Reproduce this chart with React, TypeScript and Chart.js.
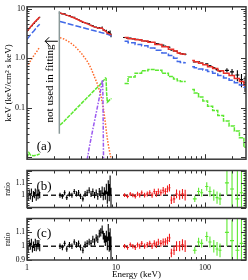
import React, { useEffect, useRef } from "react";
import { Chart, registerables } from "chart.js";

Chart.register(...registerables);

const SERIF = "'Liberation Serif', 'Times New Roman', Times, serif";

// ---------- axes ----------
const energyRange = [1, 290];
const fluxRange = [0.0092, 10.9];
const ratioRange = [0.9, 1.2];
const energyTickValues = [1, 10, 100];
const energyTickText = ["1", "10", "100"];
const fluxTickValues = [0.1, 1, 10];
const fluxTickText = ["0.1", "1.0", "10"];
const ratioTickValuesB = [1, 1.1];
const ratioTickTextB = ["1", "1.1"];
const ratioTickValuesC = [0.9, 1, 1.1];
const ratioTickTextC = ["0.9", "1", "1.1"];

// ---------- XIS data ----------
const xisLoE = [1.0, 1.03, 1.06, 1.09, 1.12, 1.15, 1.18, 1.21, 1.24, 1.27, 1.3, 1.33, 1.36, 1.39];
const xisLoFlux = [3.55, 3.65, 3.98, 4.12, 4.48, 4.55, 4.95, 5.05, 5.45, 5.58, 6.02, 6.1, 6.6, 6.7];
const xisLoRelErr = [0.025, 0.024, 0.026, 0.025, 0.024, 0.025, 0.023, 0.025, 0.024, 0.026, 0.025, 0.024, 0.025, 0.026];
const ratioBXisLo = [1.01, 0.98, 1.02, 0.99, 1.03, 0.97, 1.01, 1.0, 1.03, 0.98, 1.02, 0.99, 1.02, 1.0];
const ratioCXisLo = [1.0, 0.98, 1.02, 1.0, 1.03, 0.98, 1.01, 0.99, 1.03, 0.99, 1.02, 1.0, 1.02, 0.99];

const xisHiE = [2.35, 2.5, 2.65, 2.8, 3.0, 3.2, 3.4, 3.6, 3.8, 4.0, 4.25, 4.5, 4.75, 5.0, 5.25, 5.5, 5.75, 6.0, 6.25, 6.5, 6.75, 7.0, 7.2, 7.4, 7.6, 7.8, 8.0, 8.2, 8.4, 8.6, 8.8];
const xisHiFlux = [8.17, 7.84, 7.83, 7.3, 7.22, 6.78, 6.7, 6.26, 6.04, 5.62, 5.24, 5.2, 5.06, 4.94, 4.62, 4.54, 4.27, 4.25, 4.06, 4.16, 4.07, 4.22, 3.68, 3.72, 3.58, 3.59, 3.14, 3.36, 3.21, 3.35, 2.91];
const xisHiRelErr = [0.02, 0.02, 0.02, 0.02, 0.02, 0.02, 0.02, 0.021, 0.021, 0.022, 0.022, 0.023, 0.023, 0.024, 0.024, 0.025, 0.025, 0.026, 0.027, 0.028, 0.03, 0.03, 0.032, 0.035, 0.038, 0.042, 0.05, 0.06, 0.07, 0.08, 0.09];
const ratioBXisHi = [1.0, 0.99, 1.02, 0.98, 1.01, 1.0, 1.03, 1.01, 1.02, 0.99, 0.97, 1.01, 1.02, 1.04, 1.01, 1.03, 1.0, 1.02, 0.99, 1.03, 1.01, 1.04, 0.99, 1.03, 1.0, 1.05, 0.98, 1.06, 1.02, 1.08, 0.97];
const ratioCXisHi = [1.0, 0.99, 1.02, 0.98, 1.01, 1.0, 1.03, 1.01, 1.02, 0.99, 0.97, 1.01, 1.02, 1.03, 1.02, 1.05, 1.03, 1.06, 1.05, 1.09, 1.1, 1.12, 1.08, 1.06, 1.04, 1.07, 1.02, 1.1, 1.03, 1.05, 0.98];

// ---------- HXD-PIN data ----------
const pinE = [12.5, 13.5, 14.5, 15.5, 16.5, 17.5, 18.5, 19.5, 21, 22.5, 24, 25.5, 27, 28.5, 30, 32, 34, 36, 38, 40, 42, 45, 48, 52, 56, 60];
const pinFlux = [2.62, 2.53, 2.54, 2.46, 2.4, 2.4, 2.34, 2.34, 2.22, 2.19, 2.16, 2.07, 2.07, 1.97, 1.96, 1.87, 1.84, 1.75, 1.72, 1.67, 1.46, 1.41, 1.38, 1.26, 1.23, 1.2];
const pinRelErr = [0.015, 0.015, 0.016, 0.016, 0.017, 0.017, 0.018, 0.018, 0.019, 0.02, 0.02, 0.021, 0.022, 0.023, 0.024, 0.025, 0.026, 0.027, 0.028, 0.03, 0.031, 0.033, 0.035, 0.037, 0.04, 0.043];
const ratioBPin = [1.0, 0.99, 1.01, 1.0, 0.99, 1.01, 1.0, 1.02, 1.0, 1.01, 1.02, 1.0, 1.03, 1.01, 1.03, 1.02, 1.04, 1.03, 1.05, 1.06, 0.96, 0.97, 1.01, 1.0, 1.01, 1.0];
const ratioCPin = [1.0, 0.99, 1.01, 1.0, 0.99, 1.01, 1.0, 1.02, 1.0, 1.01, 1.02, 1.0, 1.02, 1.01, 1.03, 1.02, 1.03, 1.03, 1.04, 1.06, 0.95, 0.97, 1.0, 1.0, 1.01, 1.0];

// ---------- HXD-GSO data ----------
const gsoE = [77, 85, 92, 105, 114, 126, 137, 148, 177, 202, 232, 258, 283];
const gsoFlux = [0.84, 0.85, 0.8, 0.77, 0.7, 0.64, 0.59, 0.55, 0.57, 0.53, 0.46, 0.37, 0.32];
const gsoRelErr = [0.025, 0.03, 0.03, 0.035, 0.04, 0.045, 0.05, 0.05, 0.1, 0.15, 0.25, 0.3, 0.35];
const ratioBGso = [0.97, 1.03, 1.02, 1.07, 1.03, 1.0, 0.98, 0.97, 1.1, 1.05, 0.97, 1.02, 1.09];
const ratioCGso = [0.97, 1.03, 1.02, 1.07, 1.03, 1.0, 0.98, 0.97, 1.1, 1.04, 0.97, 1.02, 1.08];

// ---------- model components ----------
const modelLoE = [1.0, 1.05, 1.1, 1.2, 1.3, 1.39];
const totalLo = [3.5, 3.9, 4.3, 5.2, 6.0, 6.75];
const powerLo = [2.4, 2.7, 3.0, 3.6, 4.3, 4.85];
const diskLo = [0.66, 0.78, 0.9, 1.15, 1.4, 1.68];
const reflLo = [0.0098, 0.0125, 0.011, 0.0108, 0.0112, 0.0118];

const modelHiE = [2.35, 2.6, 2.9, 3.2, 3.5, 3.8, 4.1, 4.4, 4.7, 5.0, 5.3, 5.6, 5.9, 6.2, 6.5, 6.8, 7.0, 7.1, 7.2, 7.4, 7.6, 7.8, 8.0, 8.2, 8.5, 8.9];
const totalHi = [8.17, 7.76, 7.25, 6.78, 6.33, 5.92, 5.57, 5.25, 5.0, 4.75, 4.53, 4.35, 4.19, 4.11, 4.04, 4.03, 4.06, 4.0, 3.72, 3.61, 3.58, 3.42, 3.2, 3.17, 3.1, 2.95];
const powerHi = [5.52, 5.26, 4.98, 4.75, 4.54, 4.36, 4.2, 4.06, 3.93, 3.82, 3.71, 3.62, 3.53, 3.45, 3.37, 3.3, 3.26, 3.24, 3.22, 3.17, 3.13, 3.09, 3.05, 3.0, 2.92, 2.8];
const diskHi = [2.6, 2.45, 2.2, 1.95, 1.7, 1.45, 1.25, 1.05, 0.9, 0.74, 0.6, 0.47, 0.37, 0.3, 0.23, 0.17, 0.13, 0.115, 0.1, 0.072, 0.05, 0.034, 0.024, 0.018, 0.013, 0.0085];
const reflHiE = [2.35, 2.6, 2.9, 3.2, 3.5, 3.8, 4.1, 4.4, 4.7, 5.0, 5.3, 5.6, 5.9, 6.2, 6.5, 6.8, 7.1, 7.4, 7.6, 7.75, 7.85, 8.0, 8.2, 8.5, 8.9];
const reflHi = [0.045, 0.053, 0.065, 0.078, 0.092, 0.107, 0.123, 0.14, 0.158, 0.176, 0.196, 0.217, 0.238, 0.26, 0.28, 0.31, 0.34, 0.37, 0.4, 0.39, 0.2, 0.13, 0.135, 0.145, 0.155];
const lineE = [4.75, 5.0, 5.5, 6.0, 6.5, 6.8, 7.0, 7.08, 7.15, 7.25];
const lineHi = [0.009, 0.0155, 0.037, 0.079, 0.16, 0.25, 0.34, 0.37, 0.15, 0.009];

const pinModelE = [12.5, 15, 18, 21, 25, 30, 36, 42, 47, 51, 55, 61];
const totalPin = [2.62, 2.48, 2.36, 2.22, 2.09, 1.9, 1.7, 1.52, 1.4, 1.27, 1.22, 1.2];
const powerPin = [2.2, 2.05, 1.9, 1.78, 1.6, 1.45, 1.28, 1.14, 1.0, 0.86, 0.82, 0.81];
const reflPin = [0.31, 0.42, 0.5, 0.56, 0.59, 0.57, 0.5, 0.43, 0.38, 0.35, 0.34, 0.34];

const gsoModelE = [72, 80, 90, 100, 115, 130, 150, 175, 200, 230, 260, 290];
const totalGso = [0.9, 0.85, 0.79, 0.74, 0.67, 0.62, 0.56, 0.5, 0.45, 0.39, 0.34, 0.29];
const powerGso = [0.67, 0.64, 0.61, 0.58, 0.54, 0.5, 0.45, 0.4, 0.36, 0.32, 0.29, 0.26];
const reflGso = [0.235, 0.2, 0.165, 0.138, 0.108, 0.088, 0.07, 0.054, 0.043, 0.034, 0.025, 0.016];

// ratio reference line
const refE = [1, 290];
const refRatio = [1, 1];

// annotations
const cutEnergy = 2.31;
const cutFlux = [0.03, 8.9];
const arrowEnergy = [2.22, 1.6];
const arrowFlux = 2.2;
const noteEnergy = 1.81;
const noteFlux = 0.31;
const noteText = "not used in fitting";

// ---------- colours ----------
const RED = "#e8302a";
const BLUE = "#4169e8";
const ORANGE = "#ff6a2a";
const GREEN = "#5ce830";
const PURPLE = "#9b59f0";

const pts = (xs: number[], ys: number[]) => xs.map((x, i) => ({ x, y: ys[i] }));

function dataSet(xs: number[], ys: number[], err: number[], color: string, maxHalf: number) {
  return {
    data: pts(xs, ys),
    errY: err,
    barColor: color,
    maxHalf,
    showLine: false,
    pointRadius: 0,
    borderColor: color,
  } as any;
}

function modelSet(xs: number[], ys: number[], color: string, dash: number[], stepped: any = false) {
  return {
    data: pts(xs, ys),
    showLine: true,
    borderColor: color,
    borderWidth: 1.5,
    borderDash: dash,
    pointRadius: 0,
    stepped,
    tension: 0,
  } as any;
}

function errorBarPlugin(phase: "before" | "after") {
  const draw = (chart: any) => {
    const { ctx, chartArea: a, scales } = chart;
    const xs = scales.x, ys = scales.y;
    ctx.save();
    ctx.beginPath();
    ctx.rect(a.left, a.top, a.right - a.left, a.bottom - a.top);
    ctx.clip();
    chart.data.datasets.forEach((ds: any) => {
      if (!ds.errY) return;
      ctx.strokeStyle = ds.barColor;
      ctx.lineWidth = 1.1;
      const d = ds.data;
      ctx.beginPath();
      d.forEach((p: any, i: number) => {
        const px = xs.getPixelForValue(p.x);
        const py = ys.getPixelForValue(p.y);
        const e = ds.errY[i];
        const lo = ys.getPixelForValue(Math.max(p.y - e, ys.min * 0.5));
        const hi = ys.getPixelForValue(p.y + e);
        let hw = ds.maxHalf;
        if (i > 0) hw = Math.min(hw, (px - xs.getPixelForValue(d[i - 1].x)) / 2);
        if (i < d.length - 1) hw = Math.min(hw, (xs.getPixelForValue(d[i + 1].x) - px) / 2);
        if (i === 0 && d.length > 1) hw = Math.min(ds.maxHalf, (xs.getPixelForValue(d[1].x) - px) / 2);
        ctx.moveTo(px, lo);
        ctx.lineTo(px, hi);
        ctx.moveTo(px - hw, py);
        ctx.lineTo(px + hw, py);
      });
      ctx.stroke();
    });
    ctx.restore();
  };
  return phase === "before"
    ? { id: "errBefore", beforeDatasetsDraw: draw }
    : { id: "errAfter", afterDatasetsDraw: draw };
}

function frameTicksPlugin(yMajor: number[], yMinor: number[]) {
  return {
    id: "frameTicks",
    afterDatasetsDraw(chart: any) {
      const { ctx, chartArea: a, scales } = chart;
      const xs = scales.x, ys = scales.y;
      ctx.save();
      ctx.strokeStyle = "#333";
      ctx.lineWidth = 1;
      ctx.beginPath();
      for (let dec = 1; dec <= 100; dec *= 10) {
        for (let m = 1; m <= 9; m++) {
          const v = m * dec;
          if (v < xs.min || v > xs.max) continue;
          const px = Math.round(xs.getPixelForValue(v)) + 0.5;
          const len = m === 1 ? 5 : 3;
          ctx.moveTo(px, a.bottom);
          ctx.lineTo(px, a.bottom - len);
          ctx.moveTo(px, a.top);
          ctx.lineTo(px, a.top + len);
        }
      }
      const yt = (vals: number[], len: number) =>
        vals.forEach((v) => {
          if (v < ys.min - 1e-9 || v > ys.max + 1e-9) return;
          const py = Math.round(ys.getPixelForValue(v)) + 0.5;
          ctx.moveTo(a.left, py);
          ctx.lineTo(a.left + len, py);
          ctx.moveTo(a.right, py);
          ctx.lineTo(a.right - len, py);
        });
      yt(yMajor, 5);
      yt(yMinor, 2.5);
      ctx.stroke();
      ctx.lineWidth = 1.5;
      ctx.strokeStyle = "#3a3a3a";
      ctx.strokeRect(a.left, a.top, a.right - a.left, a.bottom - a.top);
      ctx.restore();
    },
  };
}

function panelLabelPlugin(text: string, fromTop: boolean, offset: number) {
  return {
    id: "panelLabel",
    afterDatasetsDraw(chart: any) {
      const { ctx, chartArea: a } = chart;
      ctx.save();
      ctx.fillStyle = "#000";
      ctx.font = `13px ${SERIF}`;
      ctx.textAlign = "center";
      ctx.textBaseline = "middle";
      ctx.fillText(text, a.left + 17, fromTop ? a.top + offset : a.bottom - offset);
      ctx.restore();
    },
  };
}

const notesPlugin = {
  id: "notes",
  afterDatasetsDraw(chart: any) {
    const { ctx, scales } = chart;
    const xs = scales.x, ys = scales.y;
    ctx.save();
    const cx = xs.getPixelForValue(cutEnergy);
    ctx.strokeStyle = "#8a9999";
    ctx.lineWidth = 1.5;
    ctx.beginPath();
    ctx.moveTo(cx, ys.getPixelForValue(cutFlux[1]));
    ctx.lineTo(cx, ys.getPixelForValue(cutFlux[0]));
    ctx.stroke();
    const ax0 = xs.getPixelForValue(arrowEnergy[0]);
    const ax1 = xs.getPixelForValue(arrowEnergy[1]);
    const ay = ys.getPixelForValue(arrowFlux);
    ctx.strokeStyle = "#000";
    ctx.lineWidth = 1;
    ctx.beginPath();
    ctx.moveTo(ax0, ay);
    ctx.lineTo(ax1, ay);
    ctx.moveTo(ax1 + 4, ay - 4);
    ctx.lineTo(ax1, ay);
    ctx.lineTo(ax1 + 4, ay + 4);
    ctx.stroke();
    ctx.fillStyle = "#000";
    ctx.font = `11px ${SERIF}`;
    ctx.textAlign = "center";
    ctx.textBaseline = "middle";
    ctx.translate(xs.getPixelForValue(noteEnergy), ys.getPixelForValue(noteFlux));
    ctx.rotate(-Math.PI / 2);
    ctx.fillText(noteText, 0, 0);
    ctx.restore();
  },
};

function logMinor(): number[] {
  const out: number[] = [];
  [0.01, 0.1, 1].forEach((d) => {
    for (let m = 2; m <= 9; m++) out.push(m * d);
  });
  return out;
}
function ratioMinor(): number[] {
  const out: number[] = [];
  for (let k = 0; k <= 15; k++) if (k % 5 !== 0) out.push(0.9 + 0.02 * k);
  return out;
}

function yAxis(type: string, range: number[], values: number[], texts: string[], title: string, tickSize: number, titleSize: number) {
  return {
    type,
    min: range[0],
    max: range[1],
    afterFit: (s: any) => {
      s.width = 27;
    },
    afterBuildTicks: (s: any) => {
      s.ticks = values.map((v) => ({ value: v }));
    },
    grid: { display: false, drawTicks: false },
    border: { display: false },
    ticks: {
      autoSkip: false,
      padding: 2,
      color: "#000",
      font: { family: SERIF, size: tickSize },
      callback: (v: any) => {
        const i = values.findIndex((t) => Math.abs(t - v) < 1e-6 * Math.max(1, t));
        return i >= 0 ? texts[i] : "";
      },
    },
    title: { display: true, text: title, color: "#000", font: { family: SERIF, size: titleSize }, padding: { top: 3.5, bottom: 0 } },
  } as any;
}

function xAxis(show: boolean) {
  return {
    type: "logarithmic",
    min: energyRange[0],
    max: energyRange[1],
    display: show,
    afterFit: (s: any) => {
      if (show) s.height = 20;
    },
    afterBuildTicks: (s: any) => {
      s.ticks = energyTickValues.map((v) => ({ value: v }));
    },
    grid: { display: false, drawTicks: false },
    border: { display: false },
    ticks: {
      autoSkip: false,
      maxRotation: 0,
      padding: 3,
      color: "#000",
      font: { family: SERIF, size: 8 },
      callback: (v: any) => {
        const i = energyTickValues.findIndex((t) => Math.abs(t - v) < 1e-6 * t);
        return i >= 0 ? energyTickText[i] : "";
      },
    },
    title: { display: show, text: "Energy (keV)", color: "#000", font: { family: SERIF, size: 9 }, padding: { top: 0, bottom: 0 } },
  } as any;
}

function baseOptions(padding: any, scales: any) {
  return {
    animation: false,
    responsive: false,
    maintainAspectRatio: false,
    events: [],
    layout: { padding },
    plugins: { legend: { display: false }, tooltip: { enabled: false } },
    scales,
  } as any;
}

function ratioDatasets(rXisLo: number[], rXisHi: number[], rPin: number[], rGso: number[]) {
  return [
    modelSet(refE, refRatio, "#222", [5, 3]),
    dataSet(xisLoE, rXisLo, xisLoRelErr, "#000", 2),
    dataSet(xisHiE, rXisHi, xisHiRelErr, "#000", 2),
    dataSet(pinE, rPin, pinRelErr, "#f01c1c", 2),
    dataSet(gsoE, rGso, gsoRelErr, GREEN, 2),
  ];
}

export default function App() {
  const mainRef = useRef<HTMLCanvasElement>(null);
  const bRef = useRef<HTMLCanvasElement>(null);
  const cRef = useRef<HTMLCanvasElement>(null);

  useEffect(() => {
    const absErr = (f: number[], r: number[]) => f.map((v, i) => v * r[i]);
    const mainDatasets = [
      modelSet(modelLoE, totalLo, RED, []),
      modelSet(modelHiE, totalHi, RED, []),
      modelSet(pinModelE, totalPin, RED, [], "middle"),
      modelSet(gsoModelE, totalGso, RED, [], "middle"),
      modelSet(modelLoE, powerLo, BLUE, [6, 2]),
      modelSet(modelHiE, powerHi, BLUE, [6, 2]),
      modelSet(pinModelE, powerPin, BLUE, [6, 2], "middle"),
      modelSet(gsoModelE, powerGso, BLUE, [6, 2], "middle"),
      modelSet(lineE, lineHi, PURPLE, [4, 1.5, 1.5, 1.5]),
      modelSet(modelLoE, diskLo, ORANGE, [1.5, 1.5]),
      modelSet(modelHiE, diskHi, ORANGE, [1.5, 1.5]),
      modelSet(modelLoE, reflLo, GREEN, [4, 1]),
      modelSet(reflHiE, reflHi, GREEN, [4, 1]),
      modelSet(pinModelE, reflPin, GREEN, [4, 1], "middle"),
      modelSet(gsoModelE, reflGso, GREEN, [4, 1], "middle"),
      dataSet(xisLoE, xisLoFlux, absErr(xisLoFlux, xisLoRelErr), "#000", 2),
      dataSet(xisHiE, xisHiFlux, absErr(xisHiFlux, xisHiRelErr), "#000", 2),
      dataSet(pinE, pinFlux, absErr(pinFlux, pinRelErr), "#000", 2),
      dataSet(gsoE, gsoFlux, absErr(gsoFlux, gsoRelErr), "#000", 2),
    ];

    const main = new Chart(mainRef.current as HTMLCanvasElement, {
      type: "scatter",
      data: { datasets: mainDatasets },
      options: baseOptions(
        { top: 2, right: 2, bottom: 1, left: 0 },
        {
          x: xAxis(false),
          y: yAxis("logarithmic", fluxRange, fluxTickValues, fluxTickText, "keV (keV/cm\u00b2 s keV)", 8, 9),
        }
      ),
      plugins: [
        errorBarPlugin("before"),
        notesPlugin,
        frameTicksPlugin([0.01, 0.1, 1, 10], logMinor()),
        panelLabelPlugin("(a)", false, 13),
      ],
    } as any);

    const chartB = new Chart(bRef.current as HTMLCanvasElement, {
      type: "scatter",
      data: { datasets: ratioDatasets(ratioBXisLo, ratioBXisHi, ratioBPin, ratioBGso) },
      options: baseOptions(
        { top: 1, right: 2, bottom: 1, left: 0 },
        {
          x: xAxis(false),
          y: yAxis("linear", ratioRange, ratioTickValuesB, ratioTickTextB, "ratio", 7.5, 7.5),
        }
      ),
      plugins: [errorBarPlugin("after"), frameTicksPlugin([0.9, 1.0, 1.1, 1.2], ratioMinor()), panelLabelPlugin("(b)", true, 16)],
    } as any);

    const chartC = new Chart(cRef.current as HTMLCanvasElement, {
      type: "scatter",
      data: { datasets: ratioDatasets(ratioCXisLo, ratioCXisHi, ratioCPin, ratioCGso) },
      options: baseOptions(
        { top: 1, right: 2, bottom: 0, left: 0 },
        {
          x: xAxis(true),
          y: yAxis("linear", ratioRange, ratioTickValuesC, ratioTickTextC, "ratio", 7.5, 7.5),
        }
      ),
      plugins: [errorBarPlugin("after"), frameTicksPlugin([0.9, 1.0, 1.1, 1.2], ratioMinor()), panelLabelPlugin("(c)", true, 15)],
    } as any);

    return () => {
      main.destroy();
      chartB.destroy();
      chartC.destroy();
    };
  }, []);

  const abs = (top: number, h: number): React.CSSProperties => ({
    position: "absolute",
    left: 0,
    top,
    width: 248,
    height: h,
    display: "block",
  });

  return (
    <div style={{ position: "fixed", left: 0, top: 0, width: 248, height: 280, background: "#fff", overflow: "hidden" }}>
      <canvas ref={mainRef} width={248} height={166} style={abs(0, 166)} />
      <canvas ref={bRef} width={248} height={50} style={abs(164, 50)} />
      <canvas ref={cRef} width={248} height={68} style={abs(212, 68)} />
    </div>
  );
}
